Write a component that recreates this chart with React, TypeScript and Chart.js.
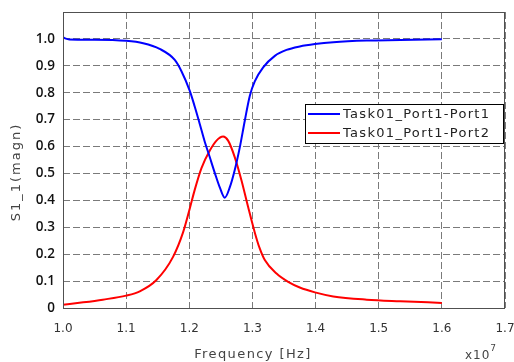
import React, { useEffect, useRef } from "react";
import { Chart, registerables } from "chart.js";

Chart.register(...registerables);

// Frequency in units of 1e7 Hz
const s11Freq = [1.0, 1.01, 1.05, 1.1, 1.127, 1.153, 1.177, 1.1876, 1.2008, 1.2087, 1.2166, 1.2245, 1.2325, 1.2404, 1.2483, 1.2562, 1.2642, 1.272, 1.28, 1.2879, 1.2958, 1.3037, 1.317, 1.3355, 1.354, 1.375, 1.399, 1.428, 1.481, 1.534, 1.6];
const s11Mag = [1.005, 0.998, 0.997, 0.993, 0.984, 0.963, 0.922, 0.88, 0.807, 0.748, 0.684, 0.618, 0.56, 0.502, 0.448, 0.41, 0.449, 0.513, 0.597, 0.696, 0.788, 0.842, 0.894, 0.937, 0.959, 0.972, 0.981, 0.988, 0.994, 0.996, 0.999];

const s21Freq = [1.0, 1.032, 1.063, 1.1, 1.1216, 1.148, 1.1743, 1.19, 1.2008, 1.2087, 1.2193, 1.2325, 1.2431, 1.2536, 1.2615, 1.2721, 1.2827, 1.2932, 1.3038, 1.311, 1.3196, 1.3382, 1.3566, 1.375, 1.399, 1.428, 1.481, 1.534, 1.6];
const s21Mag = [0.012, 0.021, 0.031, 0.046, 0.062, 0.104, 0.19, 0.28, 0.37, 0.44, 0.52, 0.585, 0.622, 0.637, 0.622, 0.56, 0.474, 0.375, 0.28, 0.225, 0.178, 0.128, 0.097, 0.076, 0.058, 0.043, 0.031, 0.025, 0.019];

const seriesNames = ["Task01_Port1-Port1", "Task01_Port1-Port2"];
const seriesColors = ["#0000ff", "#ff0000"];

const xTitle = "Frequency [Hz]";
const yTitle = "S1_1(magn)";
const xExponentBase = "x10";
const xExponent = "7";

const xMin = 1.0, xMax = 1.7, xStep = 0.1;
const yMin = 0, yMax = 1.1, yStep = 0.1;

export default function App() {
  const ref = useRef<HTMLCanvasElement>(null);

  useEffect(() => {
    const canvas = ref.current;
    if (!canvas) return;

    const decor = {
      id: "decor",
      afterDraw(chart: any) {
        const ctx = chart.ctx as CanvasRenderingContext2D;
        const a = chart.chartArea;
        // frame
        ctx.save();
        ctx.strokeStyle = "#505050";
        ctx.lineWidth = 1;
        ctx.setLineDash([]);
        ctx.strokeRect(Math.round(a.left) + 0.5, Math.round(a.top) + 0.5, Math.round(a.right - a.left) - 1, Math.round(a.bottom - a.top));
        ctx.restore();

        // y title
        ctx.save();
        ctx.fillStyle = "#444";
        ctx.font = "13px 'DejaVu Sans'";
        (ctx as any).letterSpacing = "2px";
        ctx.translate(17, 172);
        ctx.rotate(-Math.PI / 2);
        ctx.textAlign = "center";
        ctx.textBaseline = "middle";
        ctx.fillText(yTitle, 0, 0);
        ctx.restore();

        // x title
        ctx.save();
        ctx.fillStyle = "#444";
        ctx.font = "13px 'DejaVu Sans'";
        (ctx as any).letterSpacing = "1.4px";
        ctx.textAlign = "center";
        ctx.textBaseline = "alphabetic";
        ctx.fillText(xTitle, 253, 358);
        ctx.restore();

        // exponent
        ctx.save();
        ctx.fillStyle = "#444";
        ctx.font = "12px 'DejaVu Sans'";
        (ctx as any).letterSpacing = "1px";
        ctx.textAlign = "left";
        ctx.textBaseline = "alphabetic";
        ctx.fillText(xExponentBase, 465, 359);
        const w = ctx.measureText(xExponentBase).width;
        ctx.font = "9px 'DejaVu Sans'";
        ctx.fillText(xExponent, 465 + w, 351);
        ctx.restore();

        // legend
        ctx.save();
        const lx = 305, ly = 104, lw = 198, lh = 39;
        ctx.fillStyle = "#ffffff";
        ctx.fillRect(lx, ly, lw, lh);
        ctx.strokeStyle = "#000";
        ctx.lineWidth = 1;
        ctx.strokeRect(lx + 0.5, ly + 0.5, lw, lh);
        ctx.font = "13px 'DejaVu Sans'";
        (ctx as any).letterSpacing = "1.3px";
        ctx.textAlign = "left";
        ctx.textBaseline = "middle";
        seriesNames.forEach((n, i) => {
          const yy = ly + 10 + i * 19;
          ctx.strokeStyle = seriesColors[i];
          ctx.lineWidth = 2;
          ctx.beginPath();
          ctx.moveTo(lx + 3, yy);
          ctx.lineTo(lx + 35, yy);
          ctx.stroke();
          ctx.fillStyle = "#222";
          ctx.fillText(n, lx + 38, yy + 1);
        });
        ctx.restore();
      },
    };

    const chart = new Chart(canvas, {
      type: "line",
      data: {
        datasets: [
          {
            label: seriesNames[0],
            data: s11Freq.map((x, i) => ({ x, y: s11Mag[i] })),
            borderColor: seriesColors[0],
            borderWidth: 2,
            pointRadius: 0,
            cubicInterpolationMode: "monotone",
            fill: false,
          },
          {
            label: seriesNames[1],
            data: s21Freq.map((x, i) => ({ x, y: s21Mag[i] })),
            borderColor: seriesColors[1],
            borderWidth: 2,
            pointRadius: 0,
            cubicInterpolationMode: "monotone",
            fill: false,
          },
        ],
      },
      options: {
        animation: false,
        responsive: false,
        devicePixelRatio: 1,
        layout: { padding: { left: 0, top: 12, right: 9, bottom: 0 } },
        plugins: { legend: { display: false }, tooltip: { enabled: false } },
        scales: {
          x: {
            type: "linear",
            min: xMin,
            max: xMax,
            grid: { color: "#7a7a7a", lineWidth: 1, drawTicks: false },
            border: { display: false, dash: [7, 3] },
            ticks: {
              stepSize: xStep,
              padding: 14,
              color: "#333",
              font: { family: "'DejaVu Sans'", size: 12 },
              callback: (v: any) => Number(v).toFixed(1),
            },
            afterFit: (s: any) => {
              s.height = 54;
              s.paddingLeft = 0;
              s.paddingRight = 0;
            },
          },
          y: {
            type: "linear",
            min: yMin,
            max: yMax,
            grid: { color: "#7a7a7a", lineWidth: 1, drawTicks: false },
            border: { display: false, dash: [7, 3] },
            ticks: {
              stepSize: yStep,
              padding: 8,
              color: "#111",
              font: { family: "'Open Sans'", size: 13.5, weight: "600" },
              callback: (v: any) => {
                const n = Number(v);
                if (Math.abs(n) < 1e-9) return "0";
                if (Math.abs(n - yMax) < 1e-6) return "";
                return n.toFixed(1);
              },
            },
            afterFit: (s: any) => {
              s.width = 63;
              s.paddingTop = 0;
              s.paddingBottom = 0;
            },
          },
        },
      },
      plugins: [decor],
    } as any);

    return () => chart.destroy();
  }, []);

  return (
    <div style={{ position: "fixed", left: 0, top: 0, width: 514, height: 362, background: "#fff" }}>
      <canvas ref={ref} width={514} height={362} style={{ width: 514, height: 362, display: "block" }} />
    </div>
  );
}
